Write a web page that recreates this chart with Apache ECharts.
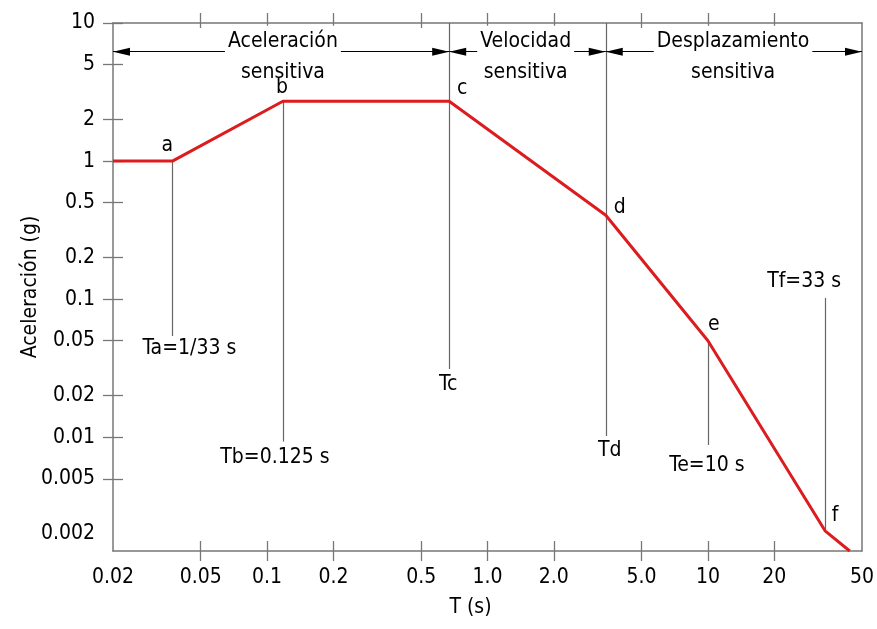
<!DOCTYPE html>
<html><head><meta charset="utf-8">
<script src="https://cdn.jsdelivr.net/npm/echarts@6/dist/echarts.min.js"></script>
<style>html,body{margin:0;padding:0;background:#fff}#c{width:877px;height:629px}</style>
</head><body><div id="c"></div>
<script>
// ---- data ----
const xTickValues = [0.02, 0.05, 0.1, 0.2, 0.5, 1, 2, 5, 10, 20, 50];
const xTickLabels = ['0.02', '0.05', '0.1', '0.2', '0.5', '1.0', '2.0', '5.0', '10', '20', '50'];
const yTickValues = [10, 5, 2, 1, 0.5, 0.2, 0.1, 0.05, 0.02, 0.01, 0.005, 0.002];
const yTickLabels = ['10', '5', '2', '1', '0.5', '0.2', '0.1', '0.05', '0.02', '0.01', '0.005', '0.002'];
const spectrumT = [0.02, 0.0372, 0.118, 0.67, 3.44, 10, 34, 44];
const spectrumA = [1, 1, 2.71, 2.71, 0.405, 0.05, 0.0021, 0.0015];
const pointNames = ['', 'a', 'b', 'c', 'd', 'e', 'f', ''];
const markerNames = ['Ta=1/33 s', 'Tb=0.125 s', 'Tc', 'Td', 'Te=10 s', 'Tf=33 s'];
const markerT = [0.0372, 0.118, 0.67, 3.44, 10, 34];
const markerFrom = [1, 2.71, 10, 10, 0.05, 0.0021];
const markerTo = [0.054, 0.0093, 0.0312, 0.0102, 0.0088, 0.102];
const regionNames = ['Aceleración\nsensitiva', 'Velocidad\nsensitiva', 'Desplazamiento\nsensitiva'];
const regionBounds = [0.02, 0.67, 3.44, 50];
const regionLabelT = [0.118, 1.49, 13];
const regionArrowA = 6.2;
const xMin = 0.02, xMax = 50, yMin = 0.0015, yMax = 10;

// ---- styles ----
function hasFont(name) {
  const c = document.createElement('canvas').getContext('2d');
  const t = '0.005 Aceleración Wmi';
  c.font = '40px monospace'; const w0 = c.measureText(t).width;
  c.font = "40px '" + name + "', monospace"; const w1 = c.measureText(t).width;
  return Math.abs(w1 - w0) > 0.5;
}
let FONT = 'Liberation Sans', FS = 21;
if (hasFont('Liberation Sans Narrow')) { FONT = 'Liberation Sans Narrow'; FS = 23; }
else if (hasFont('Arial Narrow')) { FONT = 'Arial Narrow'; FS = 23; }
else if (hasFont('DejaVu Sans Condensed')) { FONT = 'DejaVu Sans Condensed'; FS = 21; }
const TXT = '#000';
const AX = '#777';
const pointOffsets = [[0,0], [-5,-16], [-1,-14], [13,-13], [14,-8], [6,-16], [10,-15], [0,0]];
const markerOffsets = [[17,12], [-8,16], [-1,16], [4,14], [-1,21], [-21,-16]];
const arrowHead = 'path://M0,0 M4,17 L8,34 L0,34 Z';
const txtStyle = { color: TXT, fontFamily: FONT, fontSize: FS, textBorderWidth: 0, textBorderColor: 'transparent', textShadowBlur: 0, opacity: 1 };

function lbl(vals, labels) {
  return function (v) {
    for (let i = 0; i < vals.length; i++) if (Math.abs(Math.log10(vals[i]) - Math.log10(v)) < 1e-6) return labels[i];
    return '';
  };
}
const xInner = xTickValues.slice(1, -1);
const yInner = yTickValues.slice(0, -1);

function xAxisDef(pos, inside, len, showLine, showLabel) {
  return {
    type: 'log', logBase: 10, min: xMin, max: xMax, position: pos,
    axisLine: { show: showLine, lineStyle: { color: AX, width: 1.5 } },
    axisTick: { show: true, inside: inside, length: len, customValues: xInner, lineStyle: { color: AX, width: 1.3 } },
    axisLabel: Object.assign({ show: showLabel, customValues: xTickValues, formatter: lbl(xTickValues, xTickLabels), margin: 16 }, txtStyle),
    splitLine: { show: false }, minorTick: { show: false }
  };
}
function yAxisDef(pos, inside, len, showLine, showLabel, showTick) {
  return {
    type: 'log', logBase: 10, min: yMin, max: yMax, position: pos,
    axisLine: { show: showLine, lineStyle: { color: AX, width: 1.5 } },
    axisTick: { show: showTick, inside: inside, length: len, customValues: yInner, lineStyle: { color: AX, width: 1.3 } },
    axisLabel: Object.assign({ show: showLabel, customValues: yTickValues, formatter: lbl(yTickValues, yTickLabels), margin: 18 }, txtStyle),
    splitLine: { show: false }, minorTick: { show: false }
  };
}

const xa0 = xAxisDef('bottom', false, 10, true, true);
xa0.name = 'T (s)'; xa0.nameLocation = 'middle'; xa0.nameGap = 46; xa0.nameMoveOverlap = false;
xa0.nameTextStyle = Object.assign({ padding: [0, 34, 0, 0] }, txtStyle);
const ya0 = yAxisDef('left', false, 10, true, true, true);
ya0.name = 'Aceleración (g)'; ya0.nameLocation = 'middle'; ya0.nameGap = 72; ya0.nameRotate = 90; ya0.nameMoveOverlap = false;
ya0.nameTextStyle = Object.assign({}, txtStyle);

const labelBase = Object.assign({ position: 'inside', align: 'center', verticalAlign: 'middle' }, txtStyle);
const hiddenDot = { symbol: 'circle', symbolSize: 0, itemStyle: { color: '#000', opacity: 1 } };

const option = {
  animation: false,
  backgroundColor: '#fff',
  grid: { left: 113, right: 15, top: 23, bottom: 78, outerBoundsMode: 'none', containLabel: false, show: false },
  xAxis: [xa0, xAxisDef('bottom', true, 10, false, false), xAxisDef('top', false, 10, true, false), xAxisDef('top', true, 5, false, false)],
  yAxis: [ya0, yAxisDef('left', true, 10, false, false, true), yAxisDef('right', false, 5, true, false, false)],
  series: [
    { type: 'lines', coordinateSystem: 'cartesian2d', silent: true, z: 3,
      data: markerT.map((t, i) => ({ coords: [[t, markerFrom[i]], [t, markerTo[i]]] })),
      lineStyle: { color: '#666', width: 1.2, opacity: 1 }, symbol: 'none' },
    { type: 'lines', coordinateSystem: 'cartesian2d', silent: true, z: 4,
      data: regionNames.map((n, i) => ({ coords: [[regionBounds[i], regionArrowA], [regionBounds[i + 1], regionArrowA]] })),
      lineStyle: { color: '#000', width: 1.2, opacity: 1 }, symbol: [arrowHead, arrowHead], symbolSize: [[8, 34], [8, 34]] },
    { type: 'line', silent: true, z: 5, symbol: 'none',
      data: spectrumT.map((t, i) => [t, spectrumA[i]]),
      lineStyle: { color: '#dc1c1e', width: 3 } },
    Object.assign({ type: 'scatter', silent: true, z: 9,
      data: spectrumT.map((t, i) => ({ value: [t, spectrumA[i]], label: { show: pointNames[i] !== '', formatter: pointNames[i], offset: pointOffsets[i] } })),
      label: labelBase }, hiddenDot),
    Object.assign({ type: 'scatter', silent: true, z: 6,
      data: markerT.map((t, i) => ({ value: [t, markerTo[i]], label: { show: true, formatter: markerNames[i], offset: markerOffsets[i] } })),
      label: labelBase }, hiddenDot),
    Object.assign({ type: 'scatter', silent: true, z: 7,
      data: regionLabelT.map((t, i) => ({ value: [t, regionArrowA], label: { show: true, formatter: regionNames[i] } })),
      label: Object.assign({}, labelBase, { offset: [0, 5], lineHeight: 31, backgroundColor: '#fff', padding: [0, 3] }) }, hiddenDot)
  ]
};
const chart = echarts.init(document.getElementById('c'), null, { renderer: 'canvas' });
chart.setOption(option);
</script></body></html>
